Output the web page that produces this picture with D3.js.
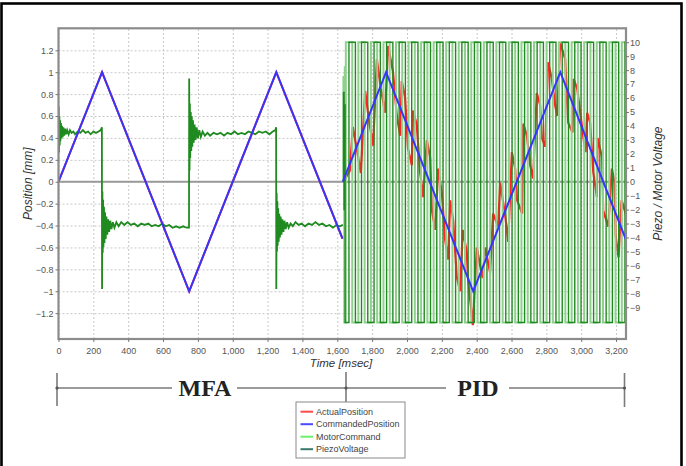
<!DOCTYPE html>
<html>
<head>
<meta charset="utf-8">
<style>
  body { margin: 0; background: #fff; }
  text { font-family: "Liberation Sans", Arial, sans-serif; }
</style>
</head>
<body>
<script src="https://d3js.org/d3.v7.min.js"></script>
<script>

// ---- values ----
var timeTicks = [0, 200, 400, 600, 800, 1000, 1200, 1400, 1600, 1800, 2000, 2200, 2400, 2600, 2800, 3000, 3200];
var positionTicks = [-1.2, -1, -0.8, -0.6, -0.4, -0.2, 0, 0.2, 0.4, 0.6, 0.8, 1, 1.2];
var voltageTicks = [-9, -8, -7, -6, -5, -4, -3, -2, -1, 0, 1, 2, 3, 4, 5, 6, 7, 8, 9, 10];

// commanded position [mm]
var commandMFA = [[0, 0], [250, 1], [750, -1], [1250, 1], [1630, -0.52]];
var commandPID = [[1632, 0], [1880, 1], [2380, -1], [2880, 1], [3257, -0.53]];

// actual position [mm]
var actualMFA = [[0, 0], [250, 1], [750, -1], [1250, 1], [1630, -0.52]];
var actualPID = [
  [1633, 0.00], [1650, 0.04], [1672, 0.10],
  [1689, 0.50], [1712, 0.30], [1735, 0.08],
  [1760, 0.83], [1783, 0.55], [1806, 0.33],
  [1827, 1.12], [1850, 0.85], [1874, 0.63],
  [1892, 1.24], [1920, 1.00], [1942, 0.60], [1961, 0.42],
  [1970, 0.92], [1989, 0.77], [2006, 0.30], [2028, 0.15],
  [2035, 0.65], [2056, 0.52], [2075, 0.09], [2093, -0.14],
  [2114, 0.38], [2133, 0.22], [2143, -0.26], [2162, -0.44],
  [2179, 0.12], [2200, -0.10], [2219, -0.53], [2236, -0.71],
  [2248, -0.17], [2265, -0.35], [2286, -0.87], [2305, -1.00],
  [2320, -0.44], [2343, -0.64], [2351, -0.90], [2378, -1.31],
  [2401, -0.60], [2420, -0.77], [2435, -0.88],
  [2449, -0.60], [2477, -0.83],
  [2494, -0.29], [2523, -0.41],
  [2535, -0.01], [2563, -0.30], [2581, -0.55],
  [2602, 0.27], [2621, 0.12], [2632, -0.17], [2661, -0.29],
  [2667, 0.53], [2688, 0.42], [2707, 0.15], [2724, 0.03],
  [2745, 0.81], [2764, 0.70], [2774, 0.40], [2793, 0.32],
  [2810, 1.09], [2831, 0.94], [2850, 0.70], [2862, 0.60],
  [2879, 1.27], [2908, 1.12], [2925, 0.54], [2950, 0.45],
  [2956, 0.94], [2977, 0.85], [3011, 0.42], [3025, 0.27],
  [3034, 0.63], [3051, 0.54], [3069, 0.09], [3090, -0.14],
  [3094, 0.40], [3120, 0.22], [3126, -0.26], [3155, -0.41],
  [3176, 0.12], [3190, 0.00], [3198, -0.50], [3214, -0.69],
  [3232, -0.17], [3257, -0.30]
];

// piezo voltage during MFA [V]
var piezoMFA = [
  [0, 3.5], [1, 5.4], [3, 2.1], [5, 4.7], [7, 2.6], [9, 4.4], [11, 2.9], [14, 4.2], [17, 3.1], [20, 4.0],
  [24, 3.2], [28, 3.9], [33, 3.3], [38, 3.8], [44, 3.4], [50, 3.7], [58, 3.4], [66, 3.7], [75, 3.5], [85, 3.6],
  [95, 3.4], [110, 3.6], [125, 3.5], [140, 3.7], [155, 3.5], [170, 3.6], [185, 3.4], [200, 3.6], [215, 3.5],
  [230, 3.6], [242, 3.7], [249, 3.9],
  [250, -7.7], [252, -0.7], [254, -5.1], [256, -1.3], [258, -4.7], [261, -1.8], [264, -4.4], [267, -2.2],
  [271, -4.1], [275, -2.5], [280, -3.8], [285, -2.7], [291, -3.6], [297, -2.8], [304, -3.4], [312, -2.9],
  [321, -3.3], [332, -2.9], [345, -3.2], [360, -2.9], [378, -3.1], [396, -2.9], [415, -3.1], [435, -3.0],
  [455, -3.2], [475, -3.0], [495, -3.1], [515, -3.0], [535, -3.2], [555, -3.1], [575, -3.2], [595, -3.0],
  [615, -3.2], [635, -3.1], [655, -3.3], [675, -3.2], [695, -3.3], [715, -3.2], [735, -3.3], [749, -3.3],
  [750, 7.4], [752, 0.8], [754, 5.6], [756, 1.7], [759, 5.0], [762, 2.2], [765, 4.7], [768, 2.5], [772, 4.4],
  [776, 2.8], [781, 4.1], [787, 3.0], [793, 3.9], [800, 3.1], [808, 3.7], [817, 3.2], [827, 3.6], [840, 3.3],
  [855, 3.5], [870, 3.3], [890, 3.5], [910, 3.4], [930, 3.5], [950, 3.3], [970, 3.5], [990, 3.4], [1010, 3.6],
  [1030, 3.4], [1050, 3.5], [1070, 3.4], [1090, 3.6], [1110, 3.5], [1130, 3.4], [1150, 3.6], [1170, 3.5],
  [1190, 3.6], [1210, 3.4], [1230, 3.6], [1245, 3.7], [1249, 3.9],
  [1250, -7.7], [1252, -0.8], [1254, -5.0], [1256, -1.4], [1258, -4.6], [1261, -1.9], [1264, -4.3],
  [1267, -2.3], [1271, -4.0], [1275, -2.5], [1280, -3.8], [1285, -2.7], [1291, -3.6], [1297, -2.8],
  [1304, -3.4], [1312, -2.9], [1321, -3.3], [1332, -3.0], [1345, -3.2], [1360, -2.9], [1378, -3.1],
  [1396, -3.0], [1415, -3.2], [1435, -3.0], [1455, -3.1], [1475, -2.9], [1495, -3.1], [1515, -3.0],
  [1535, -3.2], [1555, -3.1], [1575, -3.3], [1595, -3.1], [1615, -3.2], [1632, -3.1]
];

// square wave levels during PID [V]
var squareLevels = [10, -10.1];

// piezo voltage, PID: start-up then high intervals [from, to] in msec
var piezoPIDStart = [[1633, 0], [1636, 6.4], [1639, -2], [1642, 5.5], [1645, -10.1]];
var piezoHigh = [
  [1667, 1704], [1739, 1775], [1811, 1847], [1883, 1919], [1955, 1991], [2027, 2063], [2099, 2135],
  [2171, 2207], [2243, 2279], [2315, 2351], [2387, 2423], [2459, 2495], [2531, 2567], [2603, 2639],
  [2675, 2711], [2747, 2783], [2819, 2855], [2891, 2927], [2963, 2999], [3035, 3071], [3107, 3143],
  [3179, 3215], [3251, 3286]
];

// motor command, PID
var motorPIDStart = [[1633, 0], [1635, 7.5], [1640, -10.1], [1643, 8.2], [1646, -10.1]];
var motorHigh = [
  [1649, 1686], [1721, 1757], [1793, 1829], [1865, 1901], [1937, 1973], [2009, 2045], [2081, 2117],
  [2153, 2189], [2225, 2261], [2297, 2333], [2369, 2405], [2441, 2477], [2513, 2549], [2585, 2621],
  [2657, 2693], [2729, 2765], [2801, 2837], [2873, 2909], [2945, 2981], [3017, 3053], [3089, 3125],
  [3161, 3197], [3233, 3269]
];

var legendNames = ["ActualPosition", "CommandedPosition", "MotorCommand", "PiezoVoltage"];

// ---- layout ----
var margin = {top: 28.3, right: 60, bottom: 127, left: 58.5},
    width = 626 - margin.left,
    height = 339 - margin.top;

var colRed = "#ff2626", colBlue = "#3535ff", colDark = "#1f8a1f", colLight = "#8fd08f";

var x = d3.scaleLinear().domain([0, 3257]).range([0, width]);
var yPos = d3.scaleLinear().domain([-1.436, 1.401]).range([height, 0]);
var yVolt = d3.scaleLinear().domain([-11.28, 11.0]).range([height, 0]);

var svg = d3.select("body").append("svg")
    .attr("width", 686)
    .attr("height", 466);

// outer black frame
svg.append("rect")
    .attr("x", 1.5).attr("y", 3.5)
    .attr("width", 680).attr("height", 480)
    .attr("fill", "none").attr("stroke", "#000").attr("stroke-width", 2.6);

var g = svg.append("g")
    .attr("transform", "translate(" + margin.left + "," + margin.top + ")");

g.append("clipPath").attr("id", "plotclip")
  .append("rect").attr("width", width).attr("height", height);

// grid
g.append("g")
    .attr("class", "grid")
    .attr("transform", "translate(0," + height + ")")
    .call(d3.axisBottom(x).tickValues(timeTicks).tickSize(-height).tickFormat(""))
    .call(function(s) { s.select(".domain").remove(); });

g.append("g")
    .attr("class", "grid")
    .call(d3.axisLeft(yPos).tickValues(positionTicks).tickSize(-width).tickFormat(""))
    .call(function(s) { s.select(".domain").remove(); });

g.selectAll(".grid line")
    .attr("stroke", "#c8c8c8")
    .attr("stroke-dasharray", "2,2");

// zero line
g.append("line")
    .attr("x1", 0).attr("x2", width)
    .attr("y1", yPos(0)).attr("y2", yPos(0))
    .attr("stroke", "#9a9a9a").attr("stroke-width", 2.2);

var plot = g.append("g").attr("clip-path", "url(#plotclip)");

var posLine = d3.line()
    .x(function(d) { return x(d[0]); })
    .y(function(d) { return yPos(d[1]); });
var voltLine = d3.line()
    .x(function(d) { return x(d[0]); })
    .y(function(d) { return yVolt(d[1]); });
var voltStep = d3.line()
    .curve(d3.curveStepAfter)
    .x(function(d) { return x(d[0]); })
    .y(function(d) { return yVolt(d[1]); });

function squareWave(start, highs) {
  var pts = start.slice();
  highs.forEach(function(h) {
    pts.push([h[0], squareLevels[0]]);
    pts.push([h[1], squareLevels[1]]);
  });
  return pts;
}

// actual position (red)
plot.append("path").datum(actualMFA)
    .attr("d", posLine).attr("fill", "none")
    .attr("stroke", colRed).attr("stroke-width", 2);
plot.append("path").datum(actualPID)
    .attr("d", posLine).attr("fill", "none")
    .attr("stroke", colRed).attr("stroke-width", 2.2);

// motor command (light green)
plot.append("path").datum(squareWave(motorPIDStart, motorHigh))
    .attr("d", voltStep).attr("fill", "none")
    .attr("stroke", colLight).attr("stroke-width", 2);

// piezo voltage (dark green)
plot.append("path").datum(squareWave(piezoPIDStart, piezoHigh))
    .attr("d", voltStep).attr("fill", "none")
    .attr("stroke", colDark).attr("stroke-width", 1.4);
plot.append("path").datum(piezoMFA)
    .attr("d", voltLine).attr("fill", "none")
    .attr("stroke", colDark).attr("stroke-width", 1.8);

// commanded position (blue)
plot.append("path").datum(commandMFA)
    .attr("d", posLine).attr("fill", "none")
    .attr("stroke", colBlue).attr("stroke-width", 2);
plot.append("path").datum(commandPID)
    .attr("d", posLine).attr("fill", "none")
    .attr("stroke", colBlue).attr("stroke-width", 2);

// plot frame
g.append("rect")
    .attr("width", width).attr("height", height)
    .attr("fill", "none").attr("stroke", "#8c8c8c").attr("stroke-width", 2.2);

// axes
var xAxis = g.append("g")
    .attr("transform", "translate(0," + height + ")")
    .call(d3.axisBottom(x).tickValues(timeTicks).tickSize(3).tickPadding(6).tickFormat(d3.format(",")));
var yAxisL = g.append("g")
    .call(d3.axisLeft(yPos).tickValues(positionTicks).tickSize(3).tickPadding(2).tickFormat(d3.format("")));
var yAxisR = g.append("g")
    .attr("transform", "translate(" + width + ",0)")
    .call(d3.axisRight(yVolt).tickValues(voltageTicks).tickSize(3).tickPadding(1));

[xAxis, yAxisL, yAxisR].forEach(function(a) {
  a.select(".domain").remove();
  a.selectAll("line").attr("stroke", "#777");
  a.selectAll("text")
      .style("font-size", "9px")
      .style("font-family", "'Liberation Sans', Arial, sans-serif")
      .attr("fill", "#555");
});

// axis titles
svg.append("text")
    .attr("transform", "translate(32," + (margin.top + height / 2) + ") rotate(-90)")
    .attr("text-anchor", "middle")
    .style("font-size", "12px").style("font-style", "italic").attr("fill", "#333")
    .text("Position [mm]");

svg.append("text")
    .attr("transform", "translate(662," + (margin.top + height / 2) + ") rotate(-90)")
    .attr("text-anchor", "middle")
    .style("font-size", "12px").style("font-style", "italic").attr("fill", "#333")
    .text("Piezo / Motor Voltage");

svg.append("text")
    .attr("x", 341).attr("y", 367)
    .attr("text-anchor", "middle")
    .style("font-size", "11.5px").style("font-style", "italic").attr("fill", "#333")
    .text("Time [msec]");

// MFA / PID bracket
var ann = svg.append("g").attr("stroke", "#7a7a7a").attr("stroke-width", 1.6);
var xStart = margin.left + x(0) - 1.5, xSwitch = margin.left + x(1650), xEnd = margin.left + x(3257) - 1.5;
ann.append("line").attr("x1", xStart).attr("x2", xStart).attr("y1", 373).attr("y2", 406);
ann.append("line").attr("x1", xEnd).attr("x2", xEnd).attr("y1", 373).attr("y2", 407);
ann.append("line").attr("x1", xSwitch).attr("x2", xSwitch).attr("y1", 372).attr("y2", 402);
ann.append("line").attr("x1", xStart).attr("x2", 172).attr("y1", 388).attr("y2", 388);
ann.append("line").attr("x1", 237).attr("x2", 446).attr("y1", 388).attr("y2", 388);
ann.append("line").attr("x1", 509).attr("x2", xEnd).attr("y1", 388).attr("y2", 388);
[xStart, xSwitch, xEnd].forEach(function(px) {
  svg.append("circle").attr("cx", px).attr("cy", 388).attr("r", 1.6).attr("fill", "#555");
});

svg.append("text")
    .attr("x", 205).attr("y", 396)
    .attr("text-anchor", "middle")
    .style("font-family", "'Liberation Serif', 'Times New Roman', serif")
    .style("font-size", "24px").style("font-weight", "bold").attr("fill", "#222")
    .text("MFA");

svg.append("text")
    .attr("x", 478).attr("y", 396)
    .attr("text-anchor", "middle")
    .style("font-family", "'Liberation Serif', 'Times New Roman', serif")
    .style("font-size", "24px").style("font-weight", "bold").attr("fill", "#222")
    .text("PID");

// legend
var legendColors = ["#ff4a4a", "#4a4aff", "#6cf06c", "#3a7a6e"];
var legend = svg.append("g").attr("transform", "translate(296,402)");
legend.append("rect")
    .attr("width", 109).attr("height", 56)
    .attr("fill", "#fff").attr("stroke", "#8a8a8a").attr("stroke-width", 1);
legend.selectAll(".item")
    .data(legendNames)
    .enter().append("g")
    .attr("transform", function(d, i) { return "translate(0," + (9.7 + i * 12.5) + ")"; })
    .each(function(d, i) {
      d3.select(this).append("line")
          .attr("x1", 4.5).attr("x2", 17)
          .attr("stroke", legendColors[i]).attr("stroke-width", 2);
      d3.select(this).append("text")
          .attr("x", 20).attr("y", 3)
          .style("font-size", "9px").attr("fill", "#444")
          .text(d);
    });

</script>
</body>
</html>
